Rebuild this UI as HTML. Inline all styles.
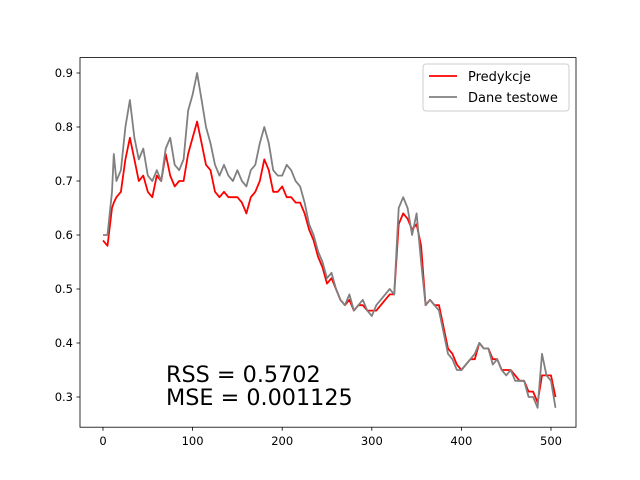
<!DOCTYPE html>
<html><head><meta charset="utf-8"><style>
body{margin:0;background:#fff}
svg{display:block;font-family:"DejaVu Sans","Liberation Sans",sans-serif}
</style></head><body>
<svg id="chart" width="640" height="480" xmlns="http://www.w3.org/2000/svg">
<rect width="640" height="480" fill="#fff"/>
<g id="plot"></g>
<rect x="80" y="57.6" width="496" height="369.6" fill="none" stroke="#000" stroke-width="0.8"/>
<g id="xt"></g><g id="yt"></g>
<g>
<rect x="423" y="64" width="146" height="47" rx="3" fill="#fff" fill-opacity="0.8" stroke="#ccc"/>
<line x1="429" y1="76" x2="457" y2="76" stroke="red" stroke-width="1.8"/>
<text x="468" y="81" font-size="13">Predykcje</text>
<line x1="429" y1="97" x2="457" y2="97" stroke="gray" stroke-width="1.8"/>
<text x="468" y="102" font-size="13">Dane testowe</text>
</g>
<text x="166" y="382" font-size="22.3">RSS = 0.5702</text>
<text x="166" y="405" font-size="22.3">MSE = 0.001125</text>
</svg>
<script>
const xs=[0,5,10,12,15,20,25,30,35,40,45,50,55,60,65,70,75,80,85,90,95,100,105,110,115,120,125,130,135,140,145,150,155,160,165,170,175,180,185,190,195,200,205,210,215,220,225,230,235,240,245,250,255,260,265,270,275,280,285,290,295,300,305,310,315,320,325,330,335,340,345,350,355,360,365,370,375,380,385,390,395,400,405,410,415,420,425,430,435,440,445,450,455,460,465,470,475,480,485,490,495,500,505];
const testVals=[0.60,0.60,0.68,0.75,0.70,0.72,0.80,0.85,0.78,0.74,0.76,0.71,0.70,0.72,0.70,0.76,0.78,0.73,0.72,0.74,0.83,0.86,0.90,0.85,0.80,0.77,0.73,0.71,0.73,0.71,0.70,0.72,0.70,0.69,0.72,0.73,0.77,0.80,0.77,0.72,0.71,0.71,0.73,0.72,0.70,0.69,0.66,0.62,0.60,0.57,0.55,0.52,0.53,0.50,0.48,0.47,0.49,0.46,0.47,0.48,0.46,0.45,0.47,0.48,0.49,0.50,0.49,0.65,0.67,0.65,0.60,0.64,0.55,0.47,0.48,0.47,0.46,0.42,0.38,0.37,0.35,0.35,0.36,0.37,0.38,0.40,0.39,0.39,0.36,0.37,0.35,0.34,0.35,0.33,0.33,0.33,0.30,0.30,0.28,0.38,0.34,0.33,0.28];
const predVals=[0.59,0.58,0.65,0.66,0.67,0.68,0.74,0.78,0.74,0.70,0.71,0.68,0.67,0.71,0.70,0.75,0.71,0.69,0.70,0.70,0.75,0.78,0.81,0.77,0.73,0.72,0.68,0.67,0.68,0.67,0.67,0.67,0.66,0.64,0.67,0.68,0.70,0.74,0.72,0.68,0.68,0.69,0.67,0.67,0.66,0.66,0.64,0.61,0.59,0.56,0.54,0.51,0.52,0.50,0.48,0.47,0.48,0.46,0.47,0.47,0.46,0.46,0.46,0.47,0.48,0.49,0.49,0.62,0.64,0.63,0.61,0.62,0.58,0.47,0.48,0.47,0.47,0.43,0.39,0.38,0.36,0.35,0.36,0.37,0.37,0.40,0.39,0.39,0.37,0.37,0.35,0.35,0.35,0.34,0.33,0.33,0.31,0.31,0.29,0.34,0.34,0.34,0.30];
const xTicks=[0,100,200,300,400,500];
const yTicks=[0.3,0.4,0.5,0.6,0.7,0.8,0.9];
const NS="http://www.w3.org/2000/svg";
const X=v=>103+v*0.896;
const Y=v=>73+(0.9-v)*540;
function mk(t,a,p){const e=document.createElementNS(NS,t);for(const k in a)e.setAttribute(k,a[k]);p.appendChild(e);return e;}
const plot=document.getElementById('plot');
function line(vals,color,name){
  const d=xs.map((x,i)=>(i?'L':'M')+X(x).toFixed(1)+' '+Y(vals[i]).toFixed(1)).join('');
  const p=mk('path',{d:d,fill:'none',stroke:color,'stroke-width':1.8,'stroke-linejoin':'round'},plot);
  
  
}
line(predVals,'red','predykcje-line');
line(testVals,'gray','dane-testowe-line');
const xt=document.getElementById('xt'),yt=document.getElementById('yt');
xTicks.forEach(t=>{
  mk('line',{x1:X(t),x2:X(t),y1:427.2,y2:430.7,stroke:'#000','stroke-width':0.8},xt);
  const tx=mk('text',{x:X(t),y:445,'font-size':11.5,'text-anchor':'middle'},xt);
  tx.textContent=t;
  
  
});
yTicks.forEach(t=>{
  mk('line',{x1:76.5,x2:80,y1:Y(t),y2:Y(t),stroke:'#000','stroke-width':0.8},yt);
  const tx=mk('text',{x:73,y:Y(t)+4,'font-size':11.5,'text-anchor':'end'},yt);
  tx.textContent=t.toFixed(1);
  
  
});
</script>
</body></html>
